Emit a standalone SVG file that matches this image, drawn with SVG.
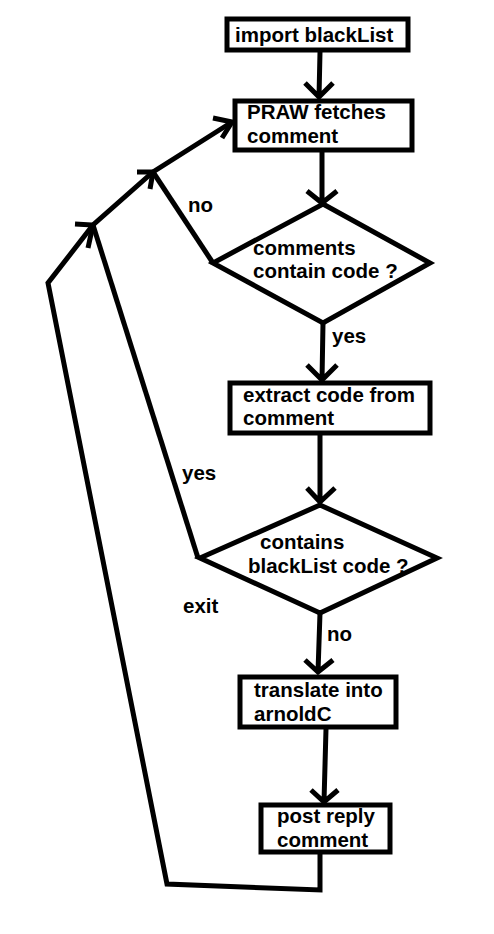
<svg xmlns="http://www.w3.org/2000/svg" width="494" height="934" viewBox="0 0 494 934">
<style>
.n{fill:#fff;stroke:#000;stroke-width:5}
.c{fill:none;stroke:#000;stroke-width:5;stroke-linejoin:miter}
text{font-family:"Liberation Sans",Arial,sans-serif;font-weight:bold;font-size:20.5px;fill:#000}
</style>
<rect width="494" height="934" fill="#fff"/>
<g id="connectors">
<path class="c" d="M320,52 L319,97 M305,83 L319,97 L333,83"/>
<path class="c" d="M322,152 L322,203 M307,191 L322,203 L337,191"/>
<path class="c" d="M323,323 L322,380 M307,365 L322,380 L337,365"/>
<path class="c" d="M320,435 L320,502 M307,488 L320,502 L335,488"/>
<path class="c" d="M320,613 L318,672 M305,660 L318,672 L333,660"/>
<path class="c" d="M326,729 L324,802 M311,790 L324,802 L338,790"/>
<path class="c" d="M320,854 L320,890 L167,884 L48,283 L93,225 L153,172 L232,122"/>
<path class="c" d="M213,263 L153,172"/>
<path class="c" d="M198,558 L93,225"/>
<path class="c" d="M75,224 L93,225 L88,248"/>
<path class="c" d="M137,172 L153,172 L150,189"/>
<path class="c" d="M213,118 L232,122 L222,138"/>
<text x="188" y="212">no</text>
<text x="332" y="343">yes</text>
<text x="182" y="480">yes</text>
<text x="183" y="613">exit</text>
<text x="327" y="641">no</text>
</g>
<g id="import">
<rect class="n" x="227" y="19" width="181" height="31"/>
<text x="235" y="42">import blackList</text>
</g>
<g id="praw">
<rect class="n" x="235" y="101" width="177" height="49"/>
<text x="247" y="119">PRAW fetches</text>
<text x="247" y="143">comment</text>
</g>
<g id="contain">
<polygon class="n" points="323,204 430,263 323,323 213,263"/>
<text x="253" y="255">comments</text>
<text x="253" y="278">contain code ?</text>
</g>
<g id="extract">
<rect class="n" x="230" y="383" width="200" height="50"/>
<text x="243" y="402">extract code from</text>
<text x="243" y="425">comment</text>
</g>
<g id="blacklist">
<polygon class="n" points="320,505 437,558 320,613 200,558"/>
<text x="260" y="549">contains</text>
<text x="248" y="573">blackList code ?</text>
</g>
<g id="translate">
<rect class="n" x="240" y="677" width="156" height="50"/>
<text x="254" y="697">translate into</text>
<text x="254" y="721">arnoldC</text>
</g>
<g id="post">
<rect class="n" x="261" y="805" width="129" height="47"/>
<text x="277" y="823">post reply</text>
<text x="277" y="847">comment</text>
</g>
</svg>
